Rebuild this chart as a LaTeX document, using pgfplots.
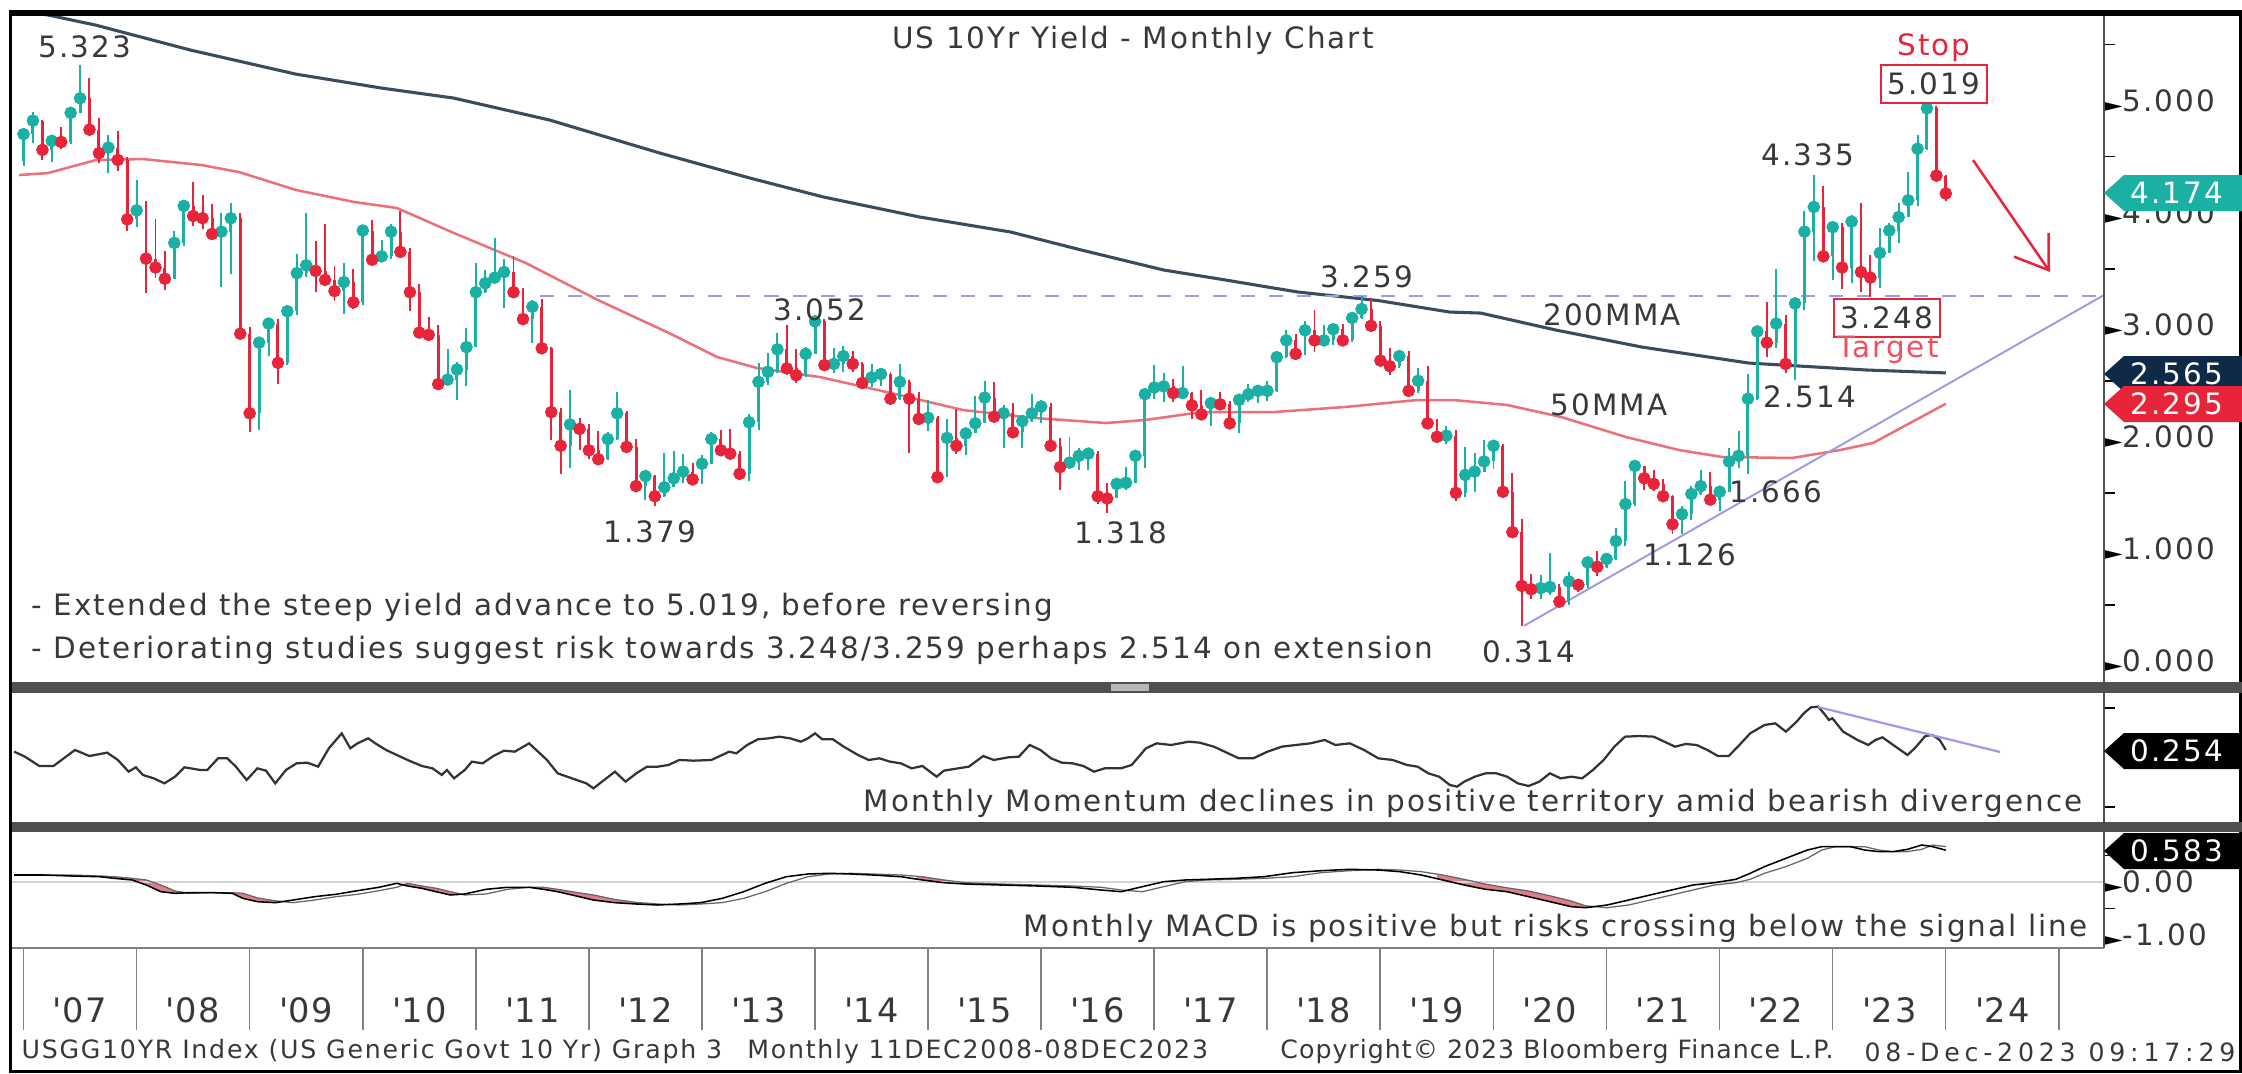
\documentclass[border=0pt]{standalone}
\usepackage{pgfplots}
\pgfplotsset{compat=1.18}
\usepackage{pgfplotstable}
\usepackage{graphicx}
\usepackage{fontspec}
\setmainfont{DejaVu Sans}[LetterSpace=7]
\usepgfplotslibrary{fillbetween}
\usetikzlibrary{arrows.meta}

\definecolor{upc}{HTML}{1AB0A4}
\definecolor{dnc}{HTML}{E8243A}
\definecolor{ma200}{HTML}{3B4B5E}
\definecolor{ma50}{HTML}{EC7078}
\definecolor{lav}{HTML}{9C9CE6}
\definecolor{navy}{HTML}{0E2A47}
\definecolor{txt}{HTML}{383838}
\definecolor{sep}{HTML}{505050}
\definecolor{macdpink}{HTML}{E07F8B}

\newcommand\af{\fontsize{10.5}{12}\selectfont}
\newcommand\ff{\fontsize{9}{11}\selectfont}
\newcommand\yf{\fontsize{12}{14}\selectfont}
\newcommand\tri{\textcolor{black}{\scalebox{0.8}[0.6]{►}}}
% value tag on the right: y in px, colour, text
\newcommand\valtag[3]{%
  \fill[#2] (2104,#1) -- (2124,#1-18) -- (2242,#1-18) -- (2242,#1+18) -- (2124,#1+18) -- cycle;
  \node[text=white, font=\af] at (2177,#1) {#3};}

\pgfplotsset{
  panel/.style={anchor=north west, scale only axis, width=746.83pt,
    xmin=2006.889, xmax=2025.399, axis line style={draw=none}, xtick=\empty,
    ytick pos=right, tick align=outside,
    yticklabel style={font=\af, text=txt, anchor=west, inner sep=0pt},
    major tick length=0pt, minor tick length=3.9pt,
    every minor tick/.append style={black, line width=0.6pt}},
  wick/.style={only marks, mark=none,
    error bars/.cd, y dir=both, y explicit, error mark=none,
    error bar style={line width=0.7pt, #1}},
  body/.style={only marks, mark=none,
    error bars/.cd, y dir=both, y explicit, error mark=none,
    error bar style={line width=1.05pt, #1}},
}

% monthly candles (x = month end in years): rising months
\pgfplotstableread{
t o h l c
2007.000 4.46 4.71 4.42 4.70
2007.083 4.70 4.90 4.62 4.82
2007.250 4.56 4.68 4.45 4.64
2007.417 4.63 4.91 4.61 4.89
2007.500 4.89 5.32 4.89 5.02
2007.750 4.53 4.69 4.35 4.58
2008.000 3.94 4.29 3.87 4.02
2008.333 3.41 3.84 3.41 3.73
2008.417 3.73 4.10 3.70 4.06
2008.750 3.81 4.00 3.34 3.83
2008.833 3.83 4.09 3.45 3.95
2009.083 2.21 2.88 2.06 2.84
2009.167 2.84 3.05 2.72 3.01
2009.333 2.66 3.16 2.64 3.12
2009.417 3.12 3.63 3.09 3.46
2009.500 3.46 4.00 3.43 3.53
2009.833 3.30 3.55 3.10 3.38
2010.000 3.20 3.85 3.18 3.84
2010.167 3.58 3.76 3.56 3.61
2010.250 3.61 3.90 3.59 3.83
2010.750 2.47 2.78 2.46 2.51
2010.833 2.51 2.67 2.33 2.60
2010.917 2.60 2.97 2.45 2.80
2011.000 2.80 3.55 2.80 3.29
2011.083 3.29 3.49 3.28 3.37
2011.167 3.37 3.77 3.37 3.42
2011.250 3.42 3.59 3.15 3.47
2011.500 3.05 3.22 2.84 3.16
2011.833 1.92 2.42 1.72 2.11
2012.167 1.80 2.04 1.79 1.98
2012.250 1.98 2.40 1.97 2.21
2012.500 1.56 1.70 1.44 1.65
2012.667 1.47 1.86 1.46 1.55
2012.750 1.55 1.87 1.55 1.63
2012.833 1.63 1.85 1.59 1.69
2013.000 1.62 1.84 1.58 1.76
2013.083 1.76 2.04 1.76 1.98
2013.417 1.67 2.20 1.61 2.13
2013.500 2.13 2.66 2.06 2.49
2013.583 2.49 2.75 2.46 2.58
2013.667 2.58 2.93 2.57 2.78
2013.917 2.55 2.80 2.53 2.74
2014.000 2.74 3.05 2.74 3.03
2014.167 2.64 2.79 2.57 2.65
2014.250 2.65 2.81 2.58 2.72
2014.500 2.48 2.65 2.44 2.53
2014.583 2.53 2.60 2.45 2.56
2014.750 2.34 2.65 2.33 2.49
2015.000 2.16 2.33 2.05 2.17
2015.167 1.64 2.16 1.64 1.99
2015.333 1.92 2.08 1.84 2.03
2015.417 2.03 2.36 2.03 2.12
2015.500 2.12 2.50 2.12 2.35
2015.667 2.18 2.28 1.90 2.21
2015.833 2.04 2.19 1.90 2.14
2015.917 2.14 2.38 2.13 2.21
2016.000 2.21 2.33 2.12 2.27
2016.250 1.73 2.00 1.72 1.77
2016.333 1.77 1.90 1.70 1.83
2016.417 1.83 1.88 1.70 1.85
2016.667 1.45 1.62 1.45 1.58
2016.750 1.58 1.73 1.53 1.59
2016.833 1.59 1.87 1.59 1.83
2016.917 1.83 2.42 1.72 2.38
2017.000 2.38 2.64 2.34 2.44
2017.083 2.44 2.57 2.31 2.45
2017.250 2.39 2.63 2.36 2.39
2017.500 2.20 2.31 2.10 2.30
2017.750 2.12 2.35 2.03 2.33
2017.833 2.33 2.47 2.31 2.38
2017.917 2.38 2.43 2.30 2.41
2018.000 2.41 2.50 2.32 2.41
2018.083 2.41 2.75 2.40 2.71
2018.167 2.71 2.95 2.70 2.86
2018.333 2.74 3.03 2.73 2.95
2018.500 2.86 3.00 2.82 2.86
2018.583 2.86 3.00 2.82 2.96
2018.750 2.86 3.09 2.85 3.06
2018.833 3.06 3.26 3.05 3.14
2019.167 2.63 2.75 2.61 2.72
2019.333 2.41 2.61 2.39 2.50
2019.583 2.00 2.10 1.94 2.01
2019.750 1.50 1.91 1.46 1.66
2019.833 1.66 1.86 1.51 1.69
2019.917 1.69 1.97 1.69 1.78
2020.000 1.78 1.95 1.71 1.92
2020.417 0.64 0.77 0.55 0.65
2020.500 0.65 0.96 0.59 0.66
2020.667 0.53 0.79 0.50 0.71
2020.833 0.68 0.89 0.65 0.88
2021.000 0.84 0.96 0.83 0.91
2021.083 0.91 1.19 0.90 1.07
2021.167 1.07 1.61 1.03 1.40
2021.250 1.40 1.77 1.38 1.74
2021.667 1.22 1.38 1.13 1.31
2021.750 1.31 1.56 1.26 1.49
2021.833 1.49 1.70 1.48 1.56
2022.000 1.44 1.55 1.34 1.51
2022.083 1.51 1.90 1.51 1.78
2022.167 1.78 2.05 1.72 1.83
2022.250 1.83 2.56 1.67 2.34
2022.333 2.34 2.98 2.33 2.94
2022.500 2.84 3.50 2.79 3.01
2022.667 2.65 3.20 2.51 3.19
2022.750 3.19 4.01 3.13 3.83
2022.833 3.83 4.34 3.57 4.05
2023.000 3.61 3.90 3.40 3.87
2023.167 3.51 3.98 3.37 3.92
2023.417 3.42 3.86 3.33 3.64
2023.500 3.64 3.91 3.64 3.84
2023.583 3.84 4.09 3.73 3.96
2023.667 3.96 4.36 3.96 4.11
2023.750 4.11 4.69 4.06 4.57
2023.833 4.57 5.02 4.56 4.93
}\upcandles

% falling months
\pgfplotstableread{
t o h l c
2007.167 4.82 4.83 4.47 4.56
2007.333 4.64 4.76 4.57 4.63
2007.583 5.02 5.20 4.74 4.74
2007.667 4.74 4.84 4.44 4.53
2007.833 4.58 4.73 4.37 4.47
2007.917 4.47 4.50 3.84 3.94
2008.083 4.02 4.10 3.28 3.59
2008.167 3.59 3.94 3.42 3.51
2008.250 3.51 3.66 3.31 3.41
2008.500 4.06 4.27 3.88 3.97
2008.583 3.97 4.16 3.85 3.95
2008.667 3.95 4.08 3.77 3.81
2008.917 3.95 4.00 2.92 2.92
2009.000 2.92 2.98 2.04 2.21
2009.250 3.01 3.05 2.47 2.66
2009.583 3.53 3.75 3.29 3.48
2009.667 3.48 3.90 3.40 3.40
2009.750 3.40 3.52 3.21 3.30
2009.917 3.38 3.50 3.14 3.20
2010.083 3.84 3.93 3.56 3.58
2010.333 3.83 4.01 3.65 3.65
2010.417 3.65 3.68 3.12 3.29
2010.500 3.29 3.36 2.92 2.93
2010.583 2.93 3.07 2.86 2.91
2010.667 2.91 3.00 2.42 2.47
2011.333 3.47 3.61 3.27 3.29
2011.417 3.29 3.33 3.03 3.05
2011.583 3.16 3.23 2.78 2.79
2011.667 2.79 2.80 1.97 2.22
2011.750 2.22 2.26 1.67 1.92
2011.917 2.11 2.17 1.88 2.07
2012.000 2.07 2.11 1.80 1.88
2012.083 1.88 2.05 1.80 1.80
2012.333 2.21 2.23 1.90 1.91
2012.417 1.91 1.98 1.53 1.56
2012.583 1.65 1.66 1.38 1.47
2012.917 1.69 1.77 1.58 1.62
2013.167 1.98 2.06 1.84 1.88
2013.250 1.88 2.07 1.84 1.85
2013.333 1.85 1.87 1.66 1.67
2013.750 2.78 3.00 2.59 2.61
2013.833 2.61 2.78 2.48 2.55
2014.083 3.03 3.05 2.64 2.64
2014.333 2.72 2.77 2.58 2.65
2014.417 2.65 2.67 2.43 2.48
2014.667 2.56 2.58 2.32 2.34
2014.833 2.49 2.51 1.86 2.34
2014.917 2.34 2.40 2.15 2.16
2015.083 2.17 2.19 1.64 1.64
2015.250 1.99 2.25 1.85 1.92
2015.583 2.35 2.49 2.16 2.18
2015.750 2.21 2.30 2.03 2.04
2016.083 2.27 2.30 1.92 1.92
2016.167 1.92 1.99 1.53 1.73
2016.500 1.85 1.87 1.40 1.47
2016.583 1.47 1.59 1.32 1.45
2017.167 2.45 2.52 2.31 2.39
2017.333 2.39 2.40 2.16 2.28
2017.417 2.28 2.42 2.19 2.20
2017.583 2.30 2.40 2.24 2.29
2017.667 2.29 2.32 2.09 2.12
2018.250 2.86 2.92 2.73 2.74
2018.417 2.95 3.13 2.76 2.86
2018.667 2.96 3.01 2.81 2.86
2018.917 3.14 3.24 2.99 2.99
2019.000 2.99 3.03 2.68 2.68
2019.083 2.68 2.79 2.55 2.63
2019.250 2.72 2.77 2.37 2.41
2019.417 2.50 2.63 2.12 2.12
2019.500 2.12 2.16 1.97 2.00
2019.667 2.01 2.06 1.43 1.50
2020.083 1.92 1.94 1.50 1.51
2020.167 1.51 1.68 1.11 1.15
2020.250 1.15 1.27 0.31 0.67
2020.333 0.67 0.78 0.55 0.64
2020.583 0.66 0.69 0.52 0.53
2020.750 0.71 0.73 0.62 0.68
2020.917 0.88 0.98 0.76 0.84
2021.333 1.74 1.74 1.53 1.63
2021.417 1.63 1.70 1.52 1.58
2021.500 1.58 1.62 1.43 1.47
2021.583 1.47 1.48 1.13 1.22
2021.917 1.56 1.69 1.42 1.44
2022.417 2.94 3.20 2.71 2.84
2022.583 3.01 3.09 2.57 2.65
2022.917 4.05 4.24 3.61 3.61
2023.083 3.87 3.91 3.32 3.51
2023.250 3.92 4.09 3.29 3.47
2023.333 3.47 3.62 3.25 3.42
2023.917 4.93 4.95 4.30 4.33
2024.000 4.33 4.34 4.10 4.17
}\dncandles

\pgfplotstableread{
t v
2006.950 5.800
2007.215 5.763
2007.637 5.673
2008.477 5.450
2009.406 5.236
2010.166 5.111
2010.803 5.022
2011.652 4.826
2012.625 4.532
2013.421 4.309
2014.075 4.139
2014.924 3.961
2015.729 3.827
2016.357 3.666
2017.082 3.488
2017.630 3.399
2018.267 3.292
2018.984 3.215
2019.612 3.113
2019.886 3.104
2020.550 2.953
2021.310 2.801
2022.257 2.658
2023.300 2.596
2024.000 2.570
}\maTwoHundred

\pgfplotstableread{
t v
2006.960 4.335
2007.216 4.353
2007.640 4.469
2008.056 4.478
2008.569 4.425
2008.905 4.362
2009.409 4.202
2009.922 4.095
2010.302 4.041
2010.806 3.818
2011.443 3.550
2012.080 3.220
2012.708 2.926
2013.133 2.712
2013.486 2.614
2014.043 2.533
2014.671 2.391
2015.308 2.239
2015.945 2.168
2016.573 2.123
2016.918 2.150
2017.422 2.221
2018.059 2.221
2018.687 2.266
2019.324 2.328
2019.651 2.328
2020.120 2.284
2020.597 2.177
2021.172 1.998
2021.641 1.882
2022.021 1.820
2022.640 1.811
2023.065 1.882
2023.357 1.945
2023.684 2.123
2024.000 2.295
}\maFifty

\pgfplotstableread{
t v
2006.917 0.118
2007.012 0.017
2007.139 -0.171
2007.265 -0.171
2007.455 0.152
2007.582 0.030
2007.740 0.098
2007.834 -0.050
2007.929 -0.286
2007.993 -0.198
2008.056 -0.353
2008.151 -0.421
2008.246 -0.522
2008.340 -0.387
2008.423 -0.198
2008.562 -0.252
2008.625 -0.252
2008.720 -0.017
2008.802 -0.017
2008.878 -0.185
2008.973 -0.454
2009.068 -0.219
2009.144 -0.266
2009.226 -0.522
2009.321 -0.252
2009.415 -0.118
2009.510 -0.104
2009.605 -0.185
2009.700 0.185
2009.814 0.488
2009.890 0.185
2009.953 0.286
2010.048 0.387
2010.111 0.286
2010.206 0.152
2010.301 0.051
2010.396 -0.050
2010.522 -0.171
2010.617 -0.219
2010.699 -0.353
2010.744 -0.252
2010.807 -0.421
2010.902 -0.252
2010.965 -0.084
2011.060 -0.118
2011.155 0.030
2011.249 0.138
2011.344 0.118
2011.471 0.286
2011.534 0.152
2011.629 -0.050
2011.724 -0.320
2011.850 -0.421
2011.977 -0.522
2012.040 -0.623
2012.135 -0.454
2012.230 -0.286
2012.324 -0.488
2012.419 -0.320
2012.514 -0.185
2012.609 -0.185
2012.704 -0.151
2012.799 -0.050
2012.925 -0.064
2013.083 -0.050
2013.178 0.051
2013.241 0.118
2013.304 0.084
2013.399 0.253
2013.494 0.367
2013.589 0.387
2013.684 0.421
2013.779 0.387
2013.874 0.320
2013.937 0.387
2014.000 0.488
2014.064 0.367
2014.158 0.367
2014.253 0.219
2014.380 0.051
2014.474 -0.050
2014.569 -0.017
2014.664 -0.084
2014.759 -0.118
2014.854 -0.219
2014.949 -0.171
2015.075 -0.387
2015.139 -0.266
2015.265 -0.219
2015.360 -0.185
2015.487 0.030
2015.581 -0.050
2015.708 0.003
2015.803 0.017
2015.898 0.253
2015.993 0.152
2016.087 -0.017
2016.182 -0.104
2016.277 -0.118
2016.372 -0.171
2016.467 -0.286
2016.562 -0.219
2016.705 -0.219
2016.800 -0.151
2016.926 0.185
2017.021 0.286
2017.148 0.253
2017.306 0.320
2017.401 0.300
2017.527 0.219
2017.654 0.084
2017.748 -0.017
2017.875 -0.017
2018.001 0.118
2018.128 0.219
2018.254 0.253
2018.381 0.286
2018.507 0.354
2018.602 0.253
2018.729 0.286
2018.855 0.152
2018.982 -0.017
2019.108 -0.050
2019.235 -0.151
2019.329 -0.185
2019.424 -0.320
2019.519 -0.387
2019.614 -0.555
2019.677 -0.589
2019.741 -0.488
2019.835 -0.387
2019.930 -0.320
2020.025 -0.320
2020.120 -0.387
2020.215 -0.522
2020.310 -0.576
2020.405 -0.488
2020.499 -0.320
2020.594 -0.421
2020.689 -0.387
2020.784 -0.421
2020.879 -0.252
2020.974 -0.050
2021.069 0.219
2021.163 0.421
2021.290 0.434
2021.416 0.421
2021.511 0.320
2021.606 0.219
2021.701 0.273
2021.796 0.253
2021.891 0.152
2021.985 0.030
2022.080 0.030
2022.175 0.253
2022.270 0.488
2022.397 0.657
2022.492 0.690
2022.586 0.522
2022.681 0.724
2022.744 0.892
2022.808 1.014
2022.871 1.027
2022.934 0.859
2022.966 0.758
2022.997 0.791
2023.092 0.522
2023.219 0.354
2023.314 0.253
2023.377 0.354
2023.440 0.407
2023.535 0.253
2023.661 0.051
2023.725 0.185
2023.819 0.434
2023.883 0.455
2023.946 0.354
2024.000 0.152
}\momentum

\pgfplotstableread{
t m s
2006.917 0.132 0.132
2007.170 0.132 0.132
2007.423 0.113 0.132
2007.676 0.100 0.113
2007.803 0.069 0.100
2007.961 0.038 0.069
2008.087 -0.057 0.038
2008.214 -0.183 -0.057
2008.340 -0.214 -0.170
2008.467 -0.202 -0.214
2008.688 -0.202 -0.202
2008.846 -0.214 -0.202
2008.941 -0.309 -0.214
2009.068 -0.371 -0.300
2009.226 -0.390 -0.355
2009.384 -0.340 -0.390
2009.574 -0.277 -0.340
2009.763 -0.232 -0.277
2009.953 -0.164 -0.232
2010.143 -0.100 -0.164
2010.301 -0.025 -0.100
2010.396 -0.075 -0.025
2010.522 -0.119 -0.075
2010.649 -0.183 -0.119
2010.775 -0.245 -0.183
2010.902 -0.226 -0.245
2011.091 -0.138 -0.226
2011.281 -0.100 -0.138
2011.471 -0.100 -0.100
2011.597 -0.138 -0.100
2011.724 -0.183 -0.138
2011.850 -0.245 -0.183
2012.040 -0.340 -0.245
2012.230 -0.390 -0.330
2012.419 -0.415 -0.385
2012.609 -0.434 -0.415
2012.799 -0.415 -0.434
2012.989 -0.390 -0.415
2013.178 -0.309 -0.390
2013.368 -0.183 -0.309
2013.558 -0.025 -0.183
2013.747 0.100 -0.025
2013.937 0.151 0.100
2014.127 0.164 0.151
2014.317 0.151 0.164
2014.506 0.132 0.151
2014.759 0.100 0.132
2014.949 0.038 0.100
2015.139 -0.013 0.038
2015.328 -0.038 -0.013
2015.644 -0.057 -0.038
2015.961 -0.075 -0.057
2016.277 -0.100 -0.075
2016.530 -0.151 -0.100
2016.707 -0.183 -0.151
2016.895 -0.088 -0.183
2017.084 0.006 -0.088
2017.274 0.038 0.006
2017.464 0.051 0.038
2017.717 0.069 0.051
2017.970 0.100 0.069
2018.223 0.176 0.100
2018.476 0.213 0.176
2018.729 0.239 0.213
2018.982 0.226 0.239
2019.171 0.195 0.226
2019.361 0.132 0.195
2019.551 0.038 0.132
2019.741 -0.057 0.050
2019.930 -0.138 -0.040
2020.120 -0.183 -0.110
2020.310 -0.277 -0.170
2020.499 -0.371 -0.260
2020.689 -0.466 -0.360
2020.816 -0.485 -0.450
2021.005 -0.434 -0.485
2021.195 -0.340 -0.434
2021.385 -0.245 -0.340
2021.575 -0.151 -0.245
2021.764 -0.057 -0.151
2021.954 -0.013 -0.057
2022.144 0.051 -0.013
2022.270 0.164 0.051
2022.397 0.290 0.164
2022.586 0.447 0.290
2022.776 0.603 0.447
2022.903 0.667 0.603
2023.029 0.667 0.667
2023.156 0.667 0.667
2023.282 0.603 0.667
2023.408 0.573 0.603
2023.535 0.573 0.573
2023.661 0.616 0.573
2023.788 0.698 0.616
2023.883 0.667 0.698
2024.000 0.600 0.667
}\macd

\begin{document}
\begin{tikzpicture}
\begin{scope}[x=0.356824pt, y=-0.356824pt]
  \path[use as bounding box] (0,0) rectangle (2242,1074);
\end{scope}

% ---- price panel
\begin{axis}[panel, at={(3.925pt,-5.709pt)}, height=237.64pt,
  ymin=-0.187, ymax=5.754,
  ytick={0,1,2,3,4,5},
  yticklabels={{\tri0.000},{\tri1.000},{\tri2.000},{\tri3.000},{\tri4.000},{\tri5.000}},
  minor ytick={0.5,1.5,2.5,3.5,4.5,5.5}]
  \addplot[ma200, line width=1.1pt] table[x=t, y=v] {\maTwoHundred};
  \addplot[ma50, line width=0.9pt] table[x=t, y=v] {\maFifty};
  \addplot[lav, line width=0.7pt, dash pattern=on 5pt off 5pt] coordinates {(2011.57,3.259) (2025.399,3.259)};
  \addplot[lav, line width=0.7pt] coordinates {(2020.27,0.314) (2025.399,3.265)};
  % wicks: low to high
  \addplot[upc, wick=upc]
    table[x=t, y=c, y error plus expr=\thisrow{h}-\thisrow{c}, y error minus expr=\thisrow{c}-\thisrow{l}] {\upcandles};
  \addplot[dnc, wick=dnc]
    table[x=t, y=c, y error plus expr=\thisrow{h}-\thisrow{c}, y error minus expr=\thisrow{c}-\thisrow{l}] {\dncandles};
  % bodies: open to close
  \addplot[upc, body=upc]
    table[x=t, y=c, y error plus expr=0, y error minus expr=\thisrow{c}-\thisrow{o}] {\upcandles};
  \addplot[dnc, body=dnc]
    table[x=t, y=c, y error plus expr=\thisrow{o}-\thisrow{c}, y error minus expr=0] {\dncandles};
\end{axis}

% ---- momentum panel
\begin{axis}[panel, at={(3.925pt,-247.28pt)}, height=46.03pt,
  ymin=-1.303, ymax=1.303, ytick={-1,1}, yticklabels={},
  major tick length=3.9pt, every major tick/.append style={black, line width=0.6pt}]
  \addplot[black!80, line width=0.8pt] table[x=t, y=v] {\momentum};
  \addplot[lav, line width=0.8pt] coordinates {(2022.870,1.020) (2024.480,0.111)};
\end{axis}

% ---- MACD panel
\begin{axis}[panel, at={(3.925pt,-296.88pt)}, height=41.39pt,
  ymin=-1.245, ymax=0.943, ytick={-1,0},
  yticklabels={{\tri-1.00},{\tri0.00}}, minor ytick={-0.5,0.5}]
  \addplot[gray!35, line width=1pt] coordinates {(2006.889,0) (2025.399,0)};
  \addplot[draw=none, name path=macdline] table[x=t, y=m] {\macd};
  \addplot[draw=none, name path=sigline] table[x=t, y=s] {\macd};
  \addplot[macdpink] fill between[of=macdline and sigline, soft clip={domain=2007.8:2009.35}];
  \addplot[macdpink] fill between[of=macdline and sigline, soft clip={domain=2010.35:2010.85}];
  \addplot[macdpink] fill between[of=macdline and sigline, soft clip={domain=2011.55:2012.7}];
  \addplot[macdpink] fill between[of=macdline and sigline, soft clip={domain=2014.9:2015.45}];
  \addplot[macdpink] fill between[of=macdline and sigline, soft clip={domain=2019.5:2020.85}];
  \addplot[black!60, line width=0.45pt] table[x=t, y=s] {\macd};
  \addplot[black, line width=0.55pt] table[x=t, y=m] {\macd};
\end{axis}

% ---- year strip
\begin{axis}[anchor=north west, at={(3.925pt,-338.27pt)}, scale only axis,
  width=746.83pt, height=29.26pt,
  xmin=2006.889, xmax=2025.399, ymin=0, ymax=1,
  axis line style={draw=none}, ytick=\empty,
  xtick={2007,...,2025}, xticklabels={}, xmajorgrids,
  major grid style={gray, line width=0.6pt}, major tick length=0pt,
  extra x ticks={2007.5,2008.5,...,2024.5},
  extra x tick labels={\textquotesingle07,\textquotesingle08,\textquotesingle09,\textquotesingle10,\textquotesingle11,\textquotesingle12,\textquotesingle13,\textquotesingle14,\textquotesingle15,\textquotesingle16,\textquotesingle17,\textquotesingle18,\textquotesingle19,\textquotesingle20,\textquotesingle21,\textquotesingle22,\textquotesingle23,\textquotesingle24},
  extra x tick style={grid=none, major tick length=0pt},
  xticklabel style={font=\yf, text=txt, anchor=center, yshift=7.14pt}]
\end{axis}

% ---- frame, separators, tags and notes (px units, y down)
\begin{scope}[x=0.356824pt, y=-0.356824pt, every node/.style={font=\af, text=txt},
  box/.style={draw=dnc, line width=0.75pt, fill=white, inner xsep=2.5pt, inner ysep=1.5pt,
    minimum width=38pt, minimum height=13.4pt}]
  \fill[black] (9,10) rectangle (2242,16);
  \fill[black] (9,10) rectangle (12,1073);
  \fill[black] (9,1070) rectangle (2242,1073);
  \fill[black] (2239,10) rectangle (2242,1073);
  \fill[sep] (12,682) rectangle (2242,693);
  \fill[sep] (12,822) rectangle (2242,832);
  \fill[gray!55] (1111,684) rectangle (1149,691);
  \draw[sep, line width=0.7pt] (2104,16) -- (2104,948);
  \draw[gray, line width=0.6pt] (12,948) -- (2104,948);

  \valtag{193}{upc}{4.174}
  \valtag{374}{navy}{2.565}
  \valtag{404}{dnc}{2.295}
  \valtag{751}{black}{0.254}
  \valtag{851}{black}{0.583}

  \node at (1133,40) {US 10Yr Yield - Monthly Chart};
  \node at (85,47) {5.323};
  \node at (820,310) {3.052};
  \node at (1367,277) {3.259};
  \node at (1612,315) {200MMA};
  \node at (1609,405) {50MMA};
  \node at (1808,155) {4.335};
  \node[text=dnc] at (1934,48) {Stop};
  \node[box] at (1934,84) {5.019};
  \node[box] at (1887,318) {3.248};
  \node[text=dnc!80] at (1888,350) {Target};
  \node at (1810,397) {2.514};
  \node at (1776,492) {1.666};
  \node at (1690,555) {1.126};
  \node at (1529,652) {0.314};
  \node at (650,532) {1.379};
  \node at (1121,533) {1.318};
  \node[anchor=west, inner sep=0pt] at (31,607) {- Extended the steep yield advance to 5.019, before reversing};
  \node[anchor=west, inner sep=0pt] at (31,650) {- Deteriorating studies suggest risk towards 3.248/3.259 perhaps 2.514 on extension};
  \node[anchor=east, inner sep=0pt] at (2083,803) {Monthly Momentum declines in positive territory amid bearish divergence};
  \node[anchor=east, inner sep=0pt] at (2088,928) {Monthly MACD is positive but risks crossing below the signal line};

  \draw[dnc, line width=0.9pt, -{Straight Barb[length=11pt, width=15pt]}] (1973,160) -- (2050,272);

  \node[anchor=west, inner sep=0pt, font=\ff] at (21,1052) {USGG10YR Index (US Generic Govt 10 Yr) Graph 3\quad Monthly 11DEC2008-08DEC2023};
  \node[font=\ff\addfontfeature{LetterSpace=4}] at (1557,1052) {Copyright© 2023 Bloomberg Finance L.P.};
  \node[anchor=east, inner sep=0pt, font=\ff\addfontfeature{LetterSpace=19}] at (2236,1052) {08-Dec-2023 09:17:29};
\end{scope}
\end{tikzpicture}
\end{document}
